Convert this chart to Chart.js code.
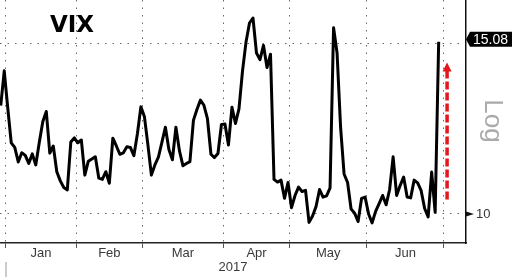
<!DOCTYPE html>
<html>
<head>
<meta charset="utf-8">
<title>VIX</title>
<script src="https://cdn.jsdelivr.net/npm/chart.js@4.4.1/dist/chart.umd.min.js"></script>
<style>
  html, body { margin: 0; padding: 0; background: #fff; }
  #chart { display: block; }
</style>
</head>
<body>
<canvas id="chart" width="512" height="277"></canvas>
<script>
// VIX daily closes, end of Dec 2016 to 29 Jun 2017 (last point is intraday)
const vixDec = [12.95, 14.07];
const vixJan = [12.88, 11.85, 11.72, 11.32, 11.57, 11.50, 11.28, 11.54, 11.24, 11.86,
                12.46, 12.77, 11.56, 11.76, 11.06, 10.82, 10.65, 10.59, 11.87, 11.99];
const vixFeb = [11.85, 11.93, 10.97, 11.34, 11.40, 11.46, 10.89, 10.86, 11.06, 10.76,
                11.98, 11.76, 11.53, 11.57, 11.74, 11.72, 11.49, 12.10, 12.91];
const vixMar = [12.62, 11.80, 10.97, 11.24, 11.45, 11.86, 12.30, 11.66, 11.38, 12.30,
                11.63, 11.22, 11.28, 11.33, 12.50, 12.83, 13.12, 12.96, 12.55, 11.53,
                11.44, 11.55, 12.38];
const vixApr = [12.39, 11.79, 12.90, 12.41, 12.85, 14.05, 15.06, 15.77, 15.96, 14.68,
                14.45, 14.95, 14.18, 14.64, 10.86, 10.79, 10.84, 10.38, 10.78];
const vixMay = [10.15, 10.45, 10.66, 10.55, 10.58, 9.80, 9.95, 10.18, 10.60, 10.41,
                10.44, 10.64, 15.59, 14.68, 12.30, 11.00, 10.78, 10.12, 10.02, 9.82,
                10.38, 10.41];
const vixJun = [10.00, 9.79, 10.06, 10.25, 10.45, 10.22, 10.60, 11.46, 10.45, 10.70,
                10.92, 10.41, 10.39, 10.84, 10.77, 10.57, 10.13, 9.93, 11.05, 10.04,
                15.08];

const monthNames = ['Jan', 'Feb', 'Mar', 'Apr', 'May', 'Jun'];
const monthDays = [20, 19, 23, 19, 22, 22];   // trading days in each month
const yearLabel = '2017';
const yTicks = [10, 15];
const arrowFrom = 10.35;
const arrowTo = 14.35;

const vixValues = [].concat(vixDec, vixJan, vixFeb, vixMar, vixApr, vixMay, vixJun);
const points = vixValues.map((v, i) => ({ x: i, y: v }));

// month boundaries sit between trading days, labels in the middle of each month
const boundaries = [];
const centres = [];
let start = vixDec.length;
monthDays.forEach((n) => {
    boundaries.push(start - 0.5);
    centres.push(start - 0.5 + n / 2);
    start += n;
});
boundaries.push(start - 0.5);

const isBoundary = (ctx) => ctx.tick && boundaries.includes(ctx.tick.value);

// title, right-hand marker boxes, red arrow
const extras = {
    id: 'extras',
    afterDraw(chart) {
        const ctx = chart.ctx;
        const xs = chart.scales.x;
        const ys = chart.scales.y;
        const area = chart.chartArea;

        ctx.save();

        ctx.fillStyle = '#000';
        ctx.font = 'bold 23px "DejaVu Sans"';
        ctx.textBaseline = 'alphabetic';
        ctx.fillText('VIX', 50, 32);

        // red dashed arrow after the last point
        const ax = xs.getPixelForValue(vixValues.length - 1 + 2.4);
        const y0 = ys.getPixelForValue(arrowFrom);
        const y1 = ys.getPixelForValue(arrowTo);
        ctx.strokeStyle = '#e3171c';
        ctx.fillStyle = '#e3171c';
        ctx.lineWidth = 3.5;
        ctx.setLineDash([8, 3]);
        ctx.beginPath();
        ctx.moveTo(ax, y0);
        ctx.lineTo(ax, y1 + 8);
        ctx.stroke();
        ctx.setLineDash([]);
        ctx.beginPath();
        ctx.moveTo(ax, y1);
        ctx.lineTo(ax + 4.5, y1 + 9);
        ctx.lineTo(ax - 4.5, y1 + 9);
        ctx.closePath();
        ctx.fill();

        // last value box
        const last = vixValues[vixValues.length - 1];
        const ly = ys.getPixelForValue(last) - 2.5;
        const bx = area.right;
        ctx.fillStyle = '#000';
        ctx.beginPath();
        ctx.moveTo(bx, ly);
        ctx.lineTo(bx + 4, ly - 7.5);
        ctx.lineTo(chart.width, ly - 7.5);
        ctx.lineTo(chart.width, ly + 7.5);
        ctx.lineTo(bx + 4, ly + 7.5);
        ctx.closePath();
        ctx.fill();
        ctx.fillStyle = '#fff';
        ctx.font = '14px "Liberation Sans"';
        ctx.textBaseline = 'middle';
        ctx.textAlign = 'left';
        ctx.fillText(last.toFixed(2), bx + 7, ly + 0.5);

        // small flag on the 10 tick
        const ty = ys.getPixelForValue(yTicks[0]);
        ctx.fillStyle = '#111';
        ctx.beginPath();
        ctx.moveTo(bx, ty - 2.5);
        ctx.lineTo(bx + 8, ty);
        ctx.lineTo(bx, ty + 2.5);
        ctx.closePath();
        ctx.fill();

        // year separator
        const sx = xs.getPixelForValue(boundaries[0]);
        ctx.strokeStyle = '#999';
        ctx.lineWidth = 1;
        ctx.beginPath();
        ctx.moveTo(sx, 262);
        ctx.lineTo(sx, chart.height);
        ctx.stroke();

        // "Log" label
        ctx.translate(492, 121);
        ctx.rotate(Math.PI / 2);
        ctx.fillStyle = '#aaa';
        ctx.font = '26px "Liberation Sans"';
        ctx.textAlign = 'center';
        ctx.textBaseline = 'middle';
        ctx.fillText('Log', 0, 0);

        ctx.restore();
    }
};

const axisFont = { family: 'Liberation Sans', size: 13, lineHeight: 1 };

new Chart(document.getElementById('chart'), {
    type: 'line',
    data: {
        datasets: [{
            data: points,
            borderColor: '#000',
            borderWidth: 3,
            borderJoinStyle: 'round',
            pointRadius: 0,
            tension: 0,
            fill: false
        }]
    },
    options: {
        responsive: false,
        animation: false,
        layout: { padding: 0 },
        plugins: {
            legend: { display: false },
            tooltip: { enabled: false }
        },
        scales: {
            x: {
                type: 'linear',
                min: -0.21,
                max: 132.8,
                bounds: 'data',
                grid: {
                    color: (ctx) => isBoundary(ctx) ? '#666' : 'rgba(0,0,0,0)',
                    lineWidth: 1,
                    tickLength: 5,
                    tickColor: (ctx) => isBoundary(ctx) ? '#555' : 'rgba(0,0,0,0)'
                },
                border: { display: true, color: '#222', width: 1.5, dash: [1.5, 6] },
                ticks: {
                    autoSkip: false,
                    maxRotation: 0,
                    padding: -1,
                    color: '#3a3a3a',
                    font: axisFont,
                    callback: (value) => {
                        const m = centres.indexOf(value);
                        return m >= 0 ? monthNames[m] : '';
                    }
                },
                title: {
                    display: true,
                    text: yearLabel,
                    color: '#3a3a3a',
                    font: axisFont,
                    padding: { top: 0, bottom: 3 }
                },
                afterBuildTicks: (scale) => {
                    scale.ticks = boundaries.concat(centres)
                        .sort((a, b) => a - b)
                        .map(v => ({ value: v }));
                },
                afterFit: (scale) => {
                    scale.height = 34;
                    scale.paddingLeft = 0;
                    scale.paddingRight = 0;
                }
            },
            y: {
                type: 'logarithmic',
                position: 'right',
                min: 9.33,
                max: 16.66,
                grid: {
                    color: '#666',
                    lineWidth: 1,
                    tickLength: 8,
                    tickColor: 'rgba(0,0,0,0)'
                },
                border: { display: true, color: '#111', width: 1.5, dash: [1.5, 6] },
                ticks: {
                    padding: 2,
                    color: '#333',
                    font: axisFont,
                    callback: (value) => value === yTicks[0] ? String(value) : ''
                },
                afterBuildTicks: (scale) => {
                    scale.ticks = yTicks.map(v => ({ value: v }));
                },
                afterFit: (scale) => {
                    scale.width = 46;
                    scale.paddingTop = 0;
                    scale.paddingBottom = 0;
                }
            }
        }
    },
    plugins: [extras]
});
</script>
</body>
</html>
